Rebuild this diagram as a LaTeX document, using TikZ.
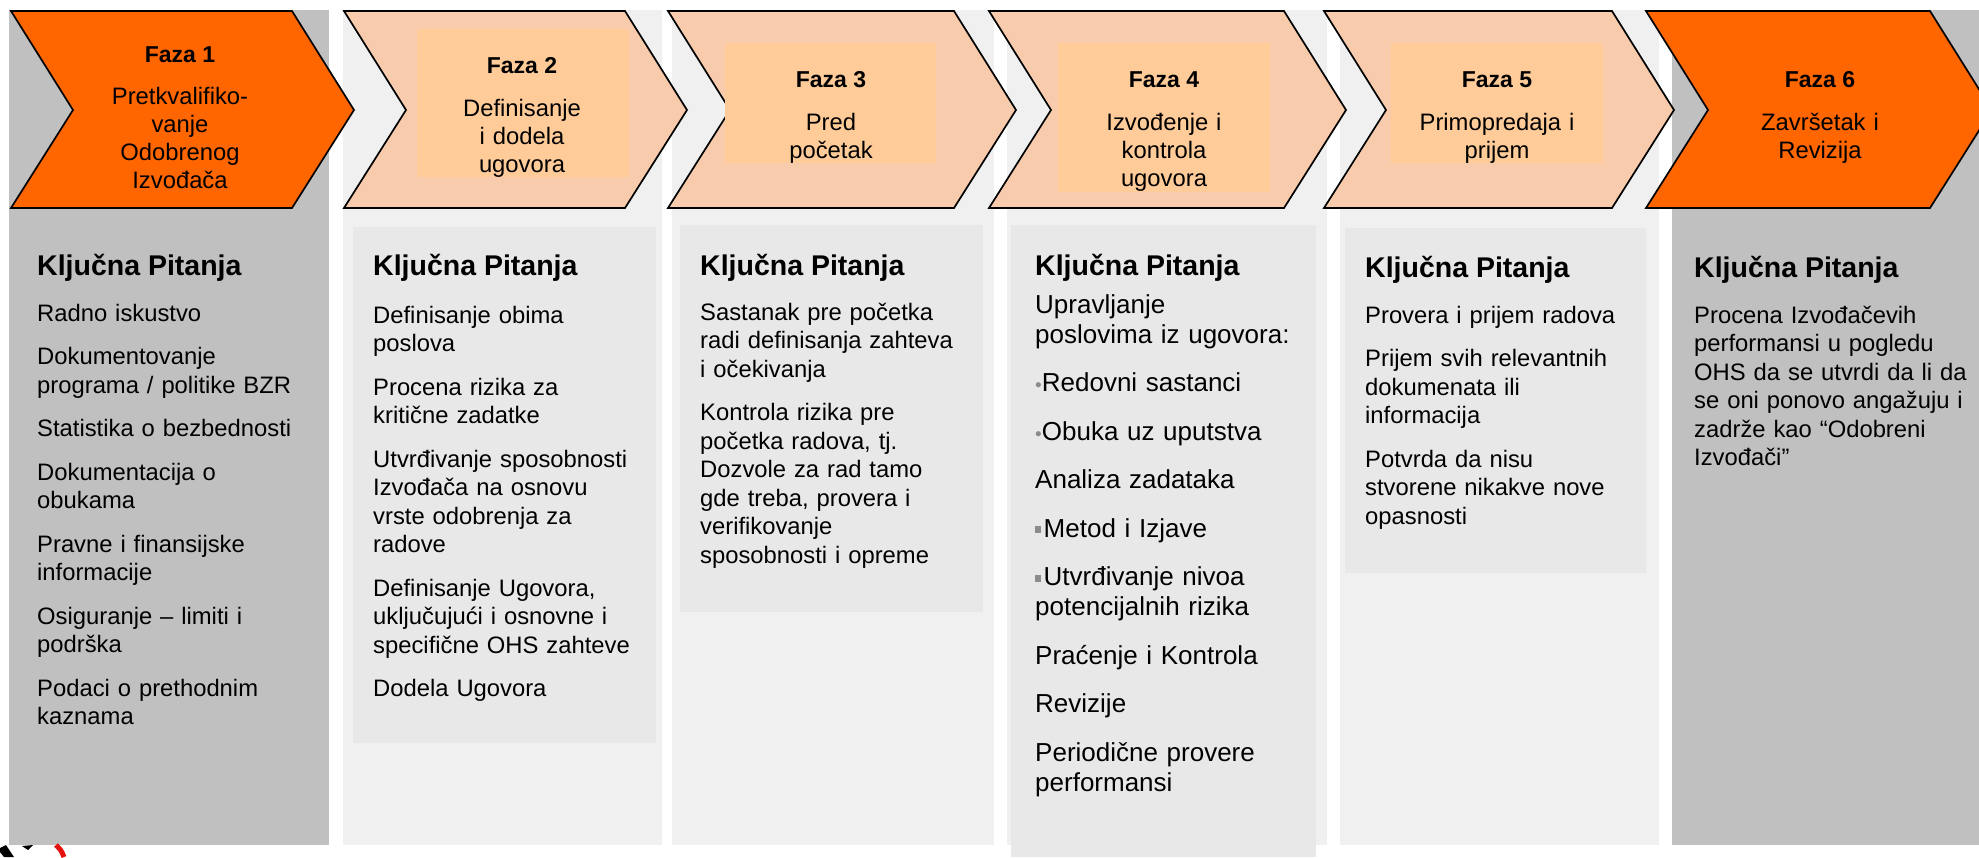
\documentclass[tikz,border=0pt]{standalone}
\usepackage{fontspec}
\setmainfont{Liberation Sans}
\definecolor{orng}{HTML}{FF6600}
\definecolor{graycol}{HTML}{C0C0C0}
\definecolor{lightbg}{HTML}{F0F0F0}
\definecolor{innerbox}{HTML}{E8E8E8}
\definecolor{chevlight}{HTML}{F8CBAC}
\definecolor{peach}{HTML}{FFCC99}
\definecolor{bulgray}{HTML}{8C8C8C}
\definecolor{logored}{HTML}{E8100A}
\newcommand{\myBody}{\fontsize{23.8}{28.5}\selectfont}
\newcommand{\myBodyB}{\fontsize{26}{30}\selectfont}
\newcommand{\myHead}{\fontsize{28.5}{32}\selectfont\bfseries}
\newcommand{\myFaza}{\fontsize{23}{28}\selectfont\bfseries}
\newcommand{\myChev}{\fontsize{23.8}{28}\selectfont}
\newcommand{\rbul}{{\color{bulgray}\fontsize{19}{19}\selectfont •}}
\newcommand{\sbul}{{\color{bulgray}\rule[4pt]{5.5pt}{7pt}}\hspace{3pt}}
\newcommand{\chevpath}[2]{(#1,11) -- (#2,11) -- (#2+62,110) -- (#2,208) -- (#1,208) -- (#1+62,110) -- cycle}
\tikzset{
  body/.style={anchor=base west, inner sep=0pt, text width=290pt, align=left, font=\myBody},
  bodyb/.style={anchor=base west, inner sep=0pt, text width=290pt, align=left, font=\myBodyB},
  head/.style={anchor=base west, inner sep=0pt, font=\myHead},
  faza/.style={anchor=base, inner sep=0pt, font=\myFaza},
  chtext/.style={anchor=base, inner sep=0pt, text width=230pt, align=center, font=\myChev},
  chev/.style={draw=black, line width=1.7pt, line join=miter},
}
\begin{document}
\begin{tikzpicture}[x=1pt, y=-1pt]
\useasboundingbox (0,0) rectangle (1979,857);
\clip (0,0) rectangle (1979,857);
% column backgrounds
\fill[graycol] (9,10) rectangle (329,845);
\fill[lightbg] (343,10) rectangle (662,845);
\fill[innerbox] (353,227) rectangle (656,743);
\fill[lightbg] (672,10) rectangle (994,845);
\fill[innerbox] (680,225) rectangle (983,612);
\fill[lightbg] (1007,10) rectangle (1327,845);
\fill[innerbox] (1011,225) rectangle (1316,857);
\fill[lightbg] (1340,10) rectangle (1659,845);
\fill[innerbox] (1345,228) rectangle (1646,573);
\fill[graycol] (1672,10) rectangle (1979,845);
% chevrons
\path[chev, fill=orng] \chevpath{11}{292};
\path[chev, fill=chevlight] \chevpath{344}{625};
\path[chev, fill=chevlight] \chevpath{668}{954};
\path[chev, fill=chevlight] \chevpath{989}{1284};
\path[chev, fill=chevlight] \chevpath{1324}{1612};
\path[chev, fill=orng] \chevpath{1646}{1930};
% inner peach boxes
\fill[peach] (417,29) rectangle (629,177);
\fill[peach] (725,43) rectangle (936,163);
\fill[peach] (1058,43) rectangle (1270,192);
\fill[peach] (1391,43) rectangle (1603,163);
% chevron texts
\node[faza] (f1) at (180,62) {Faza 1};
\node[chtext] (d1) at (180,104) {Pretkvalifiko-\\vanje\\Odobrenog\\Izvođača};
\node[faza] (f2) at (522,73) {Faza 2};
\node[chtext] (d2) at (522,116) {Definisanje\\i dodela\\ugovora};
\node[faza] (f3) at (831,87) {Faza 3};
\node[chtext] (d3) at (831,130) {Pred\\početak};
\node[faza] (f4) at (1164,87) {Faza 4};
\node[chtext] (d4) at (1164,130) {Izvođenje i\\kontrola\\ugovora};
\node[faza] (f5) at (1497,87) {Faza 5};
\node[chtext] (d5) at (1497,130) {Primopredaja i\\prijem};
\node[faza] (f6) at (1820,87) {Faza 6};
\node[chtext] (d6) at (1820,130) {Završetak i\\Revizija};
% headings
\node[head] (h1) at (37,275) {Ključna Pitanja};
\node[head] (h2) at (373,275) {Ključna Pitanja};
\node[head] (h3) at (700,275) {Ključna Pitanja};
\node[head] (h4) at (1035,275) {Ključna Pitanja};
\node[head] (h5) at (1365,277) {Ključna Pitanja};
\node[head] (h6) at (1694,277) {Ključna Pitanja};
% bodies
\node[body] (b1) at (37,321) {Radno iskustvo\\[15pt]
Dokumentovanje\\programa / politike BZR\\[15pt]
Statistika o bezbednosti\\[15pt]
Dokumentacija o\\obukama\\[15pt]
Pravne i finansijske\\informacije\\[15pt]
Osiguranje – limiti i\\podrška\\[15pt]
Podaci o prethodnim\\kaznama};
\node[body] (b2) at (373,323) {Definisanje obima\\poslova\\[15pt]
Procena rizika za\\kritične zadatke\\[15pt]
Utvrđivanje sposobnosti\\Izvođača na osnovu\\vrste odobrenja za\\radove\\[15pt]
Definisanje Ugovora,\\uključujući i osnovne i\\specifične OHS zahteve\\[15pt]
Dodela Ugovora};
\node[body] (b3) at (700,320) {Sastanak pre početka\\radi definisanja zahteva\\i očekivanja\\[15pt]
Kontrola rizika pre\\početka radova, tj.\\Dozvole za rad tamo\\gde treba, provera i\\verifikovanje\\sposobnosti i opreme};
\node[bodyb] (b4) at (1035,313) {Upravljanje\\poslovima iz ugovora:\\[18.5pt]
\rbul Redovni sastanci\\[18.5pt]
\rbul Obuka uz uputstva\\[18.5pt]
Analiza zadataka\\[18.5pt]
\sbul Metod i Izjave\\[18.5pt]
\sbul Utvrđivanje nivoa\\potencijalnih rizika\\[18.5pt]
Praćenje i Kontrola\\[18.5pt]
Revizije\\[18.5pt]
Periodične provere\\performansi};
\node[body] (b5) at (1365,323) {Provera i prijem radova\\[15pt]
Prijem svih relevantnih\\dokumenata ili\\informacija\\[15pt]
Potvrda da nisu\\stvorene nikakve nove\\opasnosti};
\node[body] (b6) at (1694,323) {Procena Izvođačevih\\performansi u pogledu\\OHS da se utvrdi da li da\\se oni ponovo angažuju i\\zadrže kao “Odobreni\\Izvođači”};
% logo fragment
\fill[black] (0,848) -- (6,845) -- (14,857) -- (4,857) -- (0,852) -- cycle;
\fill[black] (22,846) -- (33,845) -- (28,850) -- cycle;
\draw[logored, line width=5pt] (56,845) .. controls (61,850) .. (64,857);
\end{tikzpicture}
\end{document}
